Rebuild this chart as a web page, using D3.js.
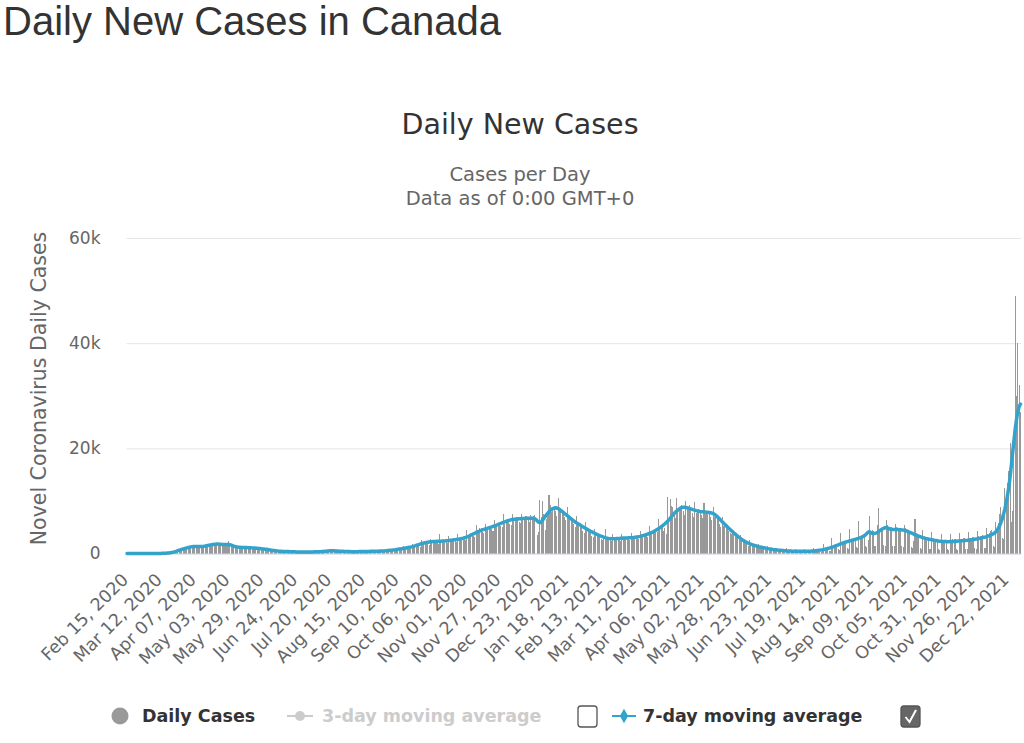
<!DOCTYPE html>
<html>
<head>
<meta charset="utf-8">
<script src="https://cdn.jsdelivr.net/npm/d3@7"></script>
<style>
body { margin: 0; background: #fff; }
svg text { font-family: "DejaVu Sans", sans-serif; }
</style>
</head>
<body>
<svg id="chart" width="1024" height="743"></svg>
<script>
// one value per day, Feb 15 2020 (a Saturday) .. Jan 01 2022, one week per line
var dailyCases = [
	0,0,0,1,0,0,0,
	0,1,0,0,1,1,2,
	1,0,4,1,3,7,5,
	6,6,4,15,16,25,35,
	50,60,80,100,150,180,250,
	330,300,420,620,540,730,630,
	800,700,1100,1200,1100,1500,1400,
	1300,1200,1250,1350,1500,1400,1300,
	1200,1100,1250,1350,1500,1650,1600,
	1400,1500,1800,1750,1900,1800,1650,
	1600,1550,1700,1600,1800,1750,1850,
	1800,2400,1400,1350,1550,1400,1250,
	1200,1150,1100,1250,1300,1150,1100,
	1100,1050,1000,1150,1150,1050,1000,
	1050,950,900,1000,950,900,850,
	850,800,750,720,650,650,600,
	550,500,520,470,450,400,420,
	400,350,380,400,360,370,330,
	300,280,320,340,300,320,290,
	260,250,330,300,260,250,270,
	240,230,340,320,300,350,360,
	300,280,420,390,400,450,430,
	420,400,620,520,540,520,460,
	400,380,520,450,430,410,390,
	300,280,470,380,360,330,340,
	290,260,420,390,370,380,390,
	330,300,450,390,410,420,400,
	360,320,510,430,440,450,430,
	400,350,620,520,560,600,630,
	500,450,900,650,750,850,900,
	700,650,1400,950,1050,1150,1250,
	1000,900,1900,1300,1500,1600,1700,
	1400,1300,2500,1800,2100,2200,2200,
	1800,1700,2800,2200,2400,2500,2400,
	2000,1900,3800,2100,2300,2400,2500,
	2100,2000,3300,2400,2700,2800,2700,
	2300,2200,3800,2600,2900,3100,3100,
	2700,2500,4400,3300,3600,3900,3900,
	3300,3100,5500,4100,4400,4800,4900,
	4100,3900,5700,4700,4900,5300,5200,
	4600,4300,6300,5100,5400,5800,5900,
	5200,5000,7500,5700,6100,6400,6500,
	5700,5400,7600,6300,6600,6900,7000,
	6000,5800,7600,6400,6800,7100,7200,
	6300,6000,7300,6700,7100,7300,0,
	3500,4000,10200,7000,9900,7500,4500,
	6500,7200,11100,9300,7900,8500,8400,
	8000,7200,10500,8300,7900,8200,7800,
	6900,6300,8900,6800,6700,6900,6600,
	5600,5000,7200,5500,5400,5600,5300,
	4300,3900,5900,4400,4500,4600,4400,
	3400,3100,4700,3600,3600,3700,3500,
	2800,2500,2900,4600,2900,3000,2900,
	2500,2300,3700,2700,2800,2900,2800,
	2600,2400,3800,2800,2900,3100,3000,
	2700,2500,3950,2900,3000,3200,3100,
	3000,2700,4300,3200,3300,3600,3500,
	3500,3200,5200,3700,3900,4300,4200,
	4400,4000,6600,4700,5000,5500,4200,
	4800,3800,10800,6000,10400,9000,8800,
	7600,6800,10500,8000,8600,9100,9300,
	8100,7400,10000,8400,8800,9200,8900,
	7700,7000,9800,7700,8100,8500,8300,
	7400,6800,9600,7500,7900,8100,8000,
	6900,6300,8900,7000,7100,7200,6800,
	5700,5100,7000,5300,5400,5300,5000,
	4300,3900,3800,4400,3900,3700,3400,
	2900,2500,3600,2500,2400,2300,2200,
	1800,1500,2600,1700,1600,1600,1500,
	1200,1000,1900,1200,1100,1100,1000,
	850,700,1400,850,800,800,750,
	550,450,1100,650,600,300,550,
	400,350,1000,550,450,450,450,
	250,200,900,450,400,400,400,
	250,200,950,450,400,450,400,
	250,200,1100,550,550,600,600,
	350,300,700,1900,900,1000,1100,
	500,400,3000,1300,1400,1500,1600,
	800,700,3950,1900,2100,2200,2300,
	1000,900,4600,2500,2800,2900,2900,
	1200,1000,6200,3100,3400,3600,3700,
	1400,1200,2500,7200,4300,4400,4300,
	1500,1400,5500,8700,4600,4700,4700,
	1600,1500,6300,5400,5100,5000,5000,
	1500,1400,5700,5100,4900,4800,4700,
	1400,1300,5500,4900,4500,4400,4200,
	1200,1100,2300,6500,3900,3700,3500,
	1000,900,4500,3300,3200,3100,3000,
	900,800,4100,2900,2800,2700,2600,
	800,700,3800,2600,2500,2600,2600,
	800,700,3700,2600,2700,2700,2700,
	800,700,3900,2800,2800,2900,2900,
	900,800,4100,2900,3000,3100,3200,
	1000,900,4300,3300,3300,3400,3500,
	1100,1000,4800,3800,3900,4200,4400,
	1500,1300,6000,5000,5800,7600,8800,
	3000,2800,12500,10500,13500,15600,21000,
	6000,8000,23000,49000,30000,40000,32000,
	27000
];

// 7-day moving average, same days
var avg7 = [
	0,0,0,0,0,0,0,
	0,0,0,0,1,1,1,
	1,1,2,2,3,4,4,
	5,6,7,9,12,17,24,
	33,44,60,80,105,140,180,
	230,290,360,440,530,620,700,
	780,860,930,1000,1070,1130,1200,
	1260,1300,1330,1350,1350,1340,1330,
	1320,1320,1340,1370,1410,1460,1510,
	1560,1610,1660,1700,1740,1770,1790,
	1790,1770,1740,1710,1690,1690,1700,
	1710,1720,1680,1600,1500,1400,1320,
	1260,1220,1190,1170,1150,1140,1130,
	1130,1120,1110,1100,1090,1070,1050,
	1030,1010,990,970,940,910,880,
	850,820,790,750,710,670,630,
	590,560,530,500,470,450,430,
	410,400,390,380,370,360,350,
	340,330,320,310,300,300,300,
	300,290,290,280,280,280,280,
	280,280,290,300,310,320,330,
	340,350,360,380,400,420,440,
	480,500,510,510,510,500,490,
	470,460,450,440,420,410,400,
	380,370,360,360,350,350,350,
	350,350,350,360,370,370,380,
	380,390,390,400,400,410,410,
	420,420,430,440,450,460,470,
	480,490,500,520,550,580,610,
	640,660,690,720,760,800,840,
	880,920,960,1000,1050,1100,1150,
	1200,1250,1310,1380,1450,1530,1610,
	1690,1770,1850,1920,1990,2050,2100,
	2150,2190,2220,2250,2270,2290,2300,
	2310,2320,2330,2340,2360,2380,2400,
	2420,2440,2470,2500,2530,2560,2600,
	2640,2680,2720,2760,2810,2860,2920,
	2990,3070,3160,3260,3370,3490,3610,
	3730,3850,3970,4090,4200,4300,4400,
	4490,4580,4660,4740,4820,4900,4980,
	5060,5140,5230,5320,5420,5520,5620,
	5720,5820,5920,6020,6110,6200,6280,
	6350,6410,6460,6500,6530,6560,6580,
	6600,6620,6640,6660,6680,6690,6700,
	6700,6710,6710,6720,6700,6620,6450,
	6200,5950,5850,6000,6300,6650,7000,
	7350,7650,7950,8200,8400,8550,8650,
	8700,8650,8550,8400,8200,8000,7800,
	7600,7400,7200,7000,6800,6600,6400,
	6200,6000,5850,5700,5550,5400,5250,
	5100,4950,4800,4650,4500,4350,4220,
	4100,3980,3860,3740,3620,3500,3390,
	3290,3200,3110,3030,2960,2900,2860,
	2830,2810,2800,2800,2810,2830,2850,
	2870,2890,2910,2930,2950,2960,2970,
	2980,2990,3000,3020,3050,3080,3120,
	3160,3210,3260,3320,3390,3460,3540,
	3620,3710,3800,3900,4010,4130,4260,
	4400,4550,4700,4870,5050,5240,5440,
	5650,5870,6120,6400,6700,7000,7300,
	7580,7850,8080,8300,8480,8630,8740,
	8800,8800,8760,8700,8620,8540,8460,
	8380,8300,8230,8160,8100,8050,8000,
	7960,7930,7900,7880,7860,7830,7800,
	7760,7700,7600,7450,7270,7060,6820,
	6560,6300,6040,5790,5540,5300,5060,
	4820,4580,4350,4130,3900,3680,3460,
	3250,3050,2860,2680,2520,2370,2230,
	2100,1980,1870,1770,1680,1600,1520,
	1450,1380,1310,1250,1190,1130,1080,
	1030,980,930,880,840,800,760,
	730,700,670,640,620,600,580,
	560,540,520,500,480,470,460,
	450,440,430,420,420,410,410,
	410,410,410,420,420,430,440,
	450,470,490,510,540,570,600,
	640,680,720,770,830,890,960,
	1030,1100,1180,1260,1350,1440,1530,
	1620,1720,1820,1920,2010,2100,2180,
	2260,2330,2400,2470,2540,2610,2680,
	2750,2830,2910,3000,3100,3220,3360,
	3550,3800,4050,4150,4000,3850,3800,
	3820,3880,3980,4150,4350,4520,4680,
	4800,4900,4950,4850,4700,4620,4580,
	4560,4550,4560,4570,4560,4540,4510,
	4480,4450,4400,4330,4240,4140,4030,
	3920,3810,3700,3590,3480,3380,3280,
	3190,3100,3020,2950,2880,2820,2760,
	2700,2650,2600,2550,2500,2460,2420,
	2380,2350,2320,2300,2280,2270,2260,
	2250,2250,2260,2270,2280,2300,2320,
	2340,2360,2380,2400,2420,2440,2460,
	2480,2500,2530,2560,2600,2640,2680,
	2720,2760,2800,2850,2900,2960,3020,
	3080,3140,3210,3290,3380,3480,3600,
	3730,3880,4100,4400,4800,5300,5900,
	6600,7500,8500,9700,11000,12600,14500,
	16800,19200,21500,23800,25600,27000,28000,
	28400
];

// a label every 26 days
var tickEvery = 26;
var tickLabels = [
	"Feb 15, 2020", "Mar 12, 2020", "Apr 07, 2020", "May 03, 2020", "May 29, 2020",
	"Jun 24, 2020", "Jul 20, 2020", "Aug 15, 2020", "Sep 10, 2020", "Oct 06, 2020",
	"Nov 01, 2020", "Nov 27, 2020", "Dec 23, 2020", "Jan 18, 2021", "Feb 13, 2021",
	"Mar 11, 2021", "Apr 06, 2021", "May 02, 2021", "May 28, 2021", "Jun 23, 2021",
	"Jul 19, 2021", "Aug 14, 2021", "Sep 09, 2021", "Oct 05, 2021", "Oct 31, 2021",
	"Nov 26, 2021", "Dec 22, 2021"
];
var yTicks = [0, 20000, 40000, 60000];

var barColor = "#999999";
var lineColor = "#33a3cc";

var plot = {left: 126.5, right: 1021, top: 238, bottom: 553.5};
var svg = d3.select("#chart");

svg.append("rect").attr("width", 1024).attr("height", 743).attr("fill", "#fff");

// titles
svg.append("text")
	.attr("x", 3).attr("y", 35)
	.style("font-family", "'Liberation Sans', Arial, sans-serif")
	.style("font-size", "40px")
	.attr("fill", "#333")
	.text("Daily New Cases in Canada");

svg.append("text")
	.attr("x", 520).attr("y", 134)
	.attr("text-anchor", "middle")
	.style("font-size", "28.5px")
	.attr("fill", "#333")
	.text("Daily New Cases");

svg.append("text")
	.attr("x", 520).attr("y", 181)
	.attr("text-anchor", "middle")
	.style("font-size", "19.5px")
	.attr("fill", "#666")
	.text("Cases per Day");

svg.append("text")
	.attr("x", 520).attr("y", 205)
	.attr("text-anchor", "middle")
	.style("font-size", "19.5px")
	.attr("fill", "#666")
	.text("Data as of 0:00 GMT+0");

// scales
var x = d3.scaleBand()
	.domain(d3.range(dailyCases.length))
	.range([plot.left, plot.right])
	.paddingInner(0.22);

var y = d3.scaleLinear()
	.domain([0, 60000])
	.range([plot.bottom, plot.top]);

// y axis with grid lines
var yAxis = svg.append("g")
	.attr("transform", "translate(" + plot.left + ",0)")
	.call(d3.axisLeft(y)
		.tickValues(yTicks)
		.tickSize(-(plot.right - plot.left))
		.tickPadding(26)
		.tickFormat(function(d) { return d ? (d / 1000) + "k" : "0"; }));
yAxis.select(".domain").remove();
yAxis.selectAll("line").attr("stroke", "#e6e6e6");
yAxis.selectAll("text")
	.attr("fill", "#666")
	.style("font-size", "17px")
	.style("font-family", "'DejaVu Sans', sans-serif");

svg.append("text")
	.attr("transform", "translate(46,388.5) rotate(-90)")
	.attr("text-anchor", "middle")
	.style("font-size", "20.5px")
	.attr("fill", "#666")
	.text("Novel Coronavirus Daily Cases");

// daily bars
svg.append("g")
	.selectAll("rect")
	.data(dailyCases)
	.join("rect")
	.attr("x", function(d, i) { return x(i); })
	.attr("y", function(d) { return y(d); })
	.attr("width", Math.max(1, x.bandwidth()))
	.attr("height", function(d) { return y(0) - y(d); })
	.attr("fill", barColor)
	.attr("shape-rendering", "crispEdges");

// x axis
var tickIdx = tickLabels.map(function(t, k) { return k * tickEvery; });
var xAxis = svg.append("g")
	.attr("transform", "translate(0," + plot.bottom + ")")
	.call(d3.axisBottom(x)
		.tickValues(tickIdx)
		.tickSize(0)
		.tickSizeOuter(0)
		.tickFormat(function(d) { return tickLabels[d / tickEvery]; }));
xAxis.select(".domain").attr("stroke", "#ccd6eb");
xAxis.selectAll("text")
	.attr("y", 0)
	.attr("dy", "0.35em")
	.attr("text-anchor", "end")
	.attr("transform", "translate(-2,23) rotate(-45)")
	.attr("fill", "#666")
	.style("font-size", "17.5px")
	.style("font-family", "'DejaVu Sans', sans-serif");

// 7-day moving average
var line = d3.line()
	.x(function(d, i) { return x(i) + x.bandwidth() / 2; })
	.y(function(d) { return y(d); });

svg.append("path")
	.datum(avg7)
	.attr("d", line)
	.attr("fill", "none")
	.attr("stroke", lineColor)
	.attr("stroke-width", 3.5)
	.attr("stroke-linejoin", "round")
	.attr("stroke-linecap", "round");

// legend
var legend = svg.append("g").style("font-size", "17.5px").style("font-weight", "bold");
var ly = 716;

legend.append("circle").attr("cx", 120).attr("cy", ly).attr("r", 8.5).attr("fill", barColor);
legend.append("text").attr("x", 142).attr("y", ly + 6).attr("fill", "#333").text("Daily Cases");

legend.append("line").attr("x1", 287).attr("x2", 313).attr("y1", ly).attr("y2", ly)
	.attr("stroke", "#ccc").attr("stroke-width", 2);
legend.append("circle").attr("cx", 300).attr("cy", ly).attr("r", 5).attr("fill", "#ccc");
legend.append("text").attr("x", 322).attr("y", ly + 6).attr("fill", "#ccc").text("3-day moving average");

legend.append("rect").attr("x", 578).attr("y", ly - 10).attr("width", 19).attr("height", 21).attr("rx", 3)
	.attr("fill", "#fff").attr("stroke", "#555").attr("stroke-width", 1.3);

legend.append("line").attr("x1", 612).attr("x2", 636).attr("y1", ly).attr("y2", ly)
	.attr("stroke", lineColor).attr("stroke-width", 2);
legend.append("path").attr("d", d3.symbol(d3.symbolDiamond, 60)())
	.attr("transform", "translate(624," + ly + ")").attr("fill", lineColor);
legend.append("text").attr("x", 643).attr("y", ly + 6).attr("fill", "#333").text("7-day moving average");

legend.append("rect").attr("x", 901).attr("y", ly - 10).attr("width", 19).attr("height", 21).attr("rx", 3)
	.attr("fill", "#666").attr("stroke", "#555").attr("stroke-width", 1.3);
legend.append("path").attr("d", "M905.5," + (ly + 1) + " L909.5," + (ly + 6) + " L916," + (ly - 6))
	.attr("fill", "none").attr("stroke", "#fff").attr("stroke-width", 2);
</script>
</body>
</html>
